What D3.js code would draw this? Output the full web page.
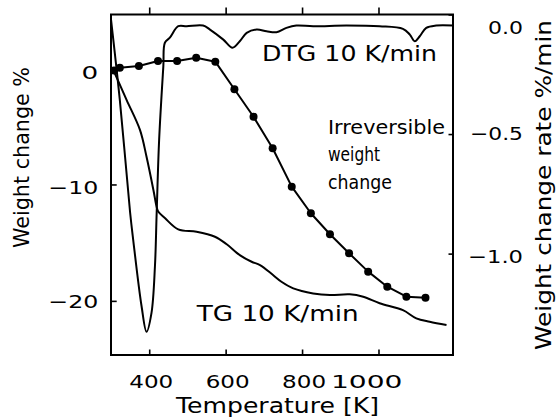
<!DOCTYPE html>
<html><head><meta charset="utf-8">
<script src="https://cdn.jsdelivr.net/npm/d3@7"></script>
<style>
body{margin:0;background:#fff}
svg{display:block}
text{font-family:"DejaVu Sans",sans-serif;fill:#000}
</style>
</head><body>
<svg id="c" width="559" height="419"></svg>
<script>
// ---- data ----
// DTG 10 K/min  (right axis, weight change rate %/min)
const dtgTemp = [300,323,350,358,380,393,406,415,419.5,426,437,441,454,476,498,541,559,594,618,637,655,681,707,733,759,785,829,916,1003,1064,1082,1095,1108,1125,1151,1195];
const dtgRate = [-0.02,-0.356,-0.828,-0.941,-1.22,-1.327,-1.248,-1.053,-0.83,-0.523,-0.216,-0.118,-0.097,-0.049,-0.049,-0.046,-0.063,-0.105,-0.139,-0.112,-0.077,-0.063,-0.07,-0.074,-0.056,-0.046,-0.049,-0.046,-0.049,-0.06,-0.084,-0.112,-0.091,-0.056,-0.046,-0.046];
// TG 10 K/min  (left axis, weight change %)
const tgTemp = [305,341,376,393,411,419.5,424,441,476,524,572,602,637,668,690,724,746,777,829,873,925,960,1003,1064,1099,1134,1178];
const tgWeight = [-0.1,-2.75,-5.33,-7.62,-10.48,-11.94,-12.35,-12.89,-13.86,-14.06,-14.49,-15.12,-16.07,-16.64,-16.92,-17.78,-18.36,-18.93,-19.36,-19.5,-19.44,-19.65,-20.2,-20.8,-21.5,-21.8,-22.08];
// Irreversible weight change (left axis, points)
const irrTemp = [308,323,373,423,473,523,573,623,673,723,773,823,873,923,973,1023,1073,1123];
const irrWeight = [-0.22,0.03,0.18,0.61,0.61,0.89,0.55,-1.82,-4.18,-6.89,-10.19,-12.47,-14.28,-15.91,-17.49,-18.78,-19.64,-19.73];
// ticks
const xTicks = [400,600,800,1000];
const yLeftTicks = [0,-10,-20];
const yRightTicks = [0,-0.5,-1.0];

// ---- chart ----
const FONT = "DejaVu Sans, sans-serif";
const svg = d3.select("#c");
svg.append("rect").attr("width",559).attr("height",419).attr("fill","#fff");

const x  = d3.scaleLinear().domain([300,1195]).range([111,453]);
const yL = d3.scaleLinear().domain([-24.65,4.6]).range([355,14.5]);
const yR = d3.scaleLinear().domain([-1.424,0]).range([355,14.5]);

// bottom axis (inward ticks)
const gB = svg.append("g").attr("transform","translate(0,355)")
  .call(d3.axisBottom(x).tickValues(xTicks).tickSize(-5.5).tickSizeOuter(0).tickFormat(d3.format("d")));
gB.attr("font-family",FONT).attr("font-size",18);
gB.select(".domain").remove();
gB.selectAll(".tick line").attr("stroke","#000").attr("stroke-width",1.6);
gB.selectAll(".tick text").attr("y",33.3).attr("dy",null).attr("x",23.5)
  .attr("text-anchor","end")
  .attr("textLength",d=>String(d).length>3?71.5:44).attr("lengthAdjust","spacingAndGlyphs");

// top ticks (outward)
const gT = svg.append("g").attr("transform","translate(0,14.5)")
  .call(d3.axisTop(x).tickValues(xTicks).tickSize(7).tickSizeOuter(0).tickFormat(""));
gT.select(".domain").remove();
gT.selectAll(".tick line").attr("stroke","#000").attr("stroke-width",1.6);

// left axis
const gL = svg.append("g").attr("transform","translate(111,0)")
  .call(d3.axisLeft(yL).tickValues(yLeftTicks).tickSize(-5.7).tickSizeOuter(0).tickFormat(d3.format("d")));
gL.attr("font-family",FONT).attr("font-size",18);
gL.select(".domain").remove();
gL.selectAll(".tick line").attr("stroke","#000").attr("stroke-width",1.6);
gL.selectAll(".tick text").attr("x",-12.7).attr("dy",null).attr("y",d=>d===0?10:(d===-10?8.7:6.5))
  .attr("text-anchor","end")
  .attr("textLength",d=>d===0?16.7:50).attr("lengthAdjust","spacingAndGlyphs");

// right axis
const gR = svg.append("g").attr("transform","translate(453,0)")
  .call(d3.axisRight(yR).tickValues(yRightTicks).tickSize(-4.5).tickSizeOuter(0).tickFormat(d3.format(".1f")));
gR.attr("font-family",FONT).attr("font-size",18);
gR.select(".domain").remove();
gR.selectAll(".tick line").attr("stroke","#000").attr("stroke-width",1.6);
gR.selectAll(".tick text").attr("x",70).attr("dy",null)
  .attr("y",d=>d===0?18.7:(d===-0.5?5.5:8.5))
  .attr("text-anchor","end")
  .attr("textLength",d=>d===0?35:(d===-0.5?53:55)).attr("lengthAdjust","spacingAndGlyphs");

// frame
svg.append("rect")
  .attr("x",x.range()[0]).attr("y",yL.range()[1])
  .attr("width",x.range()[1]-x.range()[0]).attr("height",yL.range()[0]-yL.range()[1])
  .attr("fill","none").attr("stroke","#000").attr("stroke-width",2);

// curves
const lineR = d3.line().x(d=>x(d[0])).y(d=>yR(d[1])).curve(d3.curveCatmullRom.alpha(0.5));
const lineL = d3.line().x(d=>x(d[0])).y(d=>yL(d[1])).curve(d3.curveCatmullRom.alpha(0.5));
const lineIrr = d3.line().x(d=>x(d[0])).y(d=>yL(d[1]));

svg.append("path").datum(d3.zip(dtgTemp,dtgRate)).attr("d",lineR)
  .attr("fill","none").attr("stroke","#000").attr("stroke-width",2).attr("stroke-linejoin","round");
svg.append("path").datum(d3.zip(tgTemp,tgWeight)).attr("d",lineL)
  .attr("fill","none").attr("stroke","#000").attr("stroke-width",2).attr("stroke-linejoin","round");
const irr = d3.zip(irrTemp,irrWeight);
svg.append("path").datum(irr).attr("d",lineIrr)
  .attr("fill","none").attr("stroke","#000").attr("stroke-width",2).attr("stroke-linejoin","round");
svg.append("g").selectAll("circle").data(irr).join("circle")
  .attr("cx",d=>x(d[0])).attr("cy",d=>yL(d[1])).attr("r",4).attr("fill","#000");

// annotations
function label(txt,xx,yy,len,size){
  svg.append("text").attr("x",xx).attr("y",yy).attr("font-size",size).attr("font-family",FONT)
    .attr("textLength",len).attr("lengthAdjust","spacingAndGlyphs").text(txt);
}
label("DTG 10 K/min",262,61,175,21);
label("TG 10 K/min",196.7,321,162,21);
label("Irreversible",328,133.5,117,20);
label("weight",328,161,52,20);
label("change",328,188.5,64,20);

// axis titles
svg.append("text").attr("x",176).attr("y",412.7).attr("font-size",21).attr("font-family",FONT)
  .attr("textLength",203).attr("lengthAdjust","spacingAndGlyphs").text("Temperature [K]");
svg.append("text").attr("transform","translate(29,157.5) rotate(-90)").attr("text-anchor","middle")
  .attr("font-size",21).attr("font-family",FONT)
  .attr("textLength",181).attr("lengthAdjust","spacingAndGlyphs").text("Weight change %");
svg.append("text").attr("transform","translate(551,185) rotate(-90)").attr("text-anchor","middle")
  .attr("font-size",21).attr("font-family",FONT)
  .attr("textLength",330).attr("lengthAdjust","spacingAndGlyphs").text("Weight change rate %/min");
</script>
</body></html>
